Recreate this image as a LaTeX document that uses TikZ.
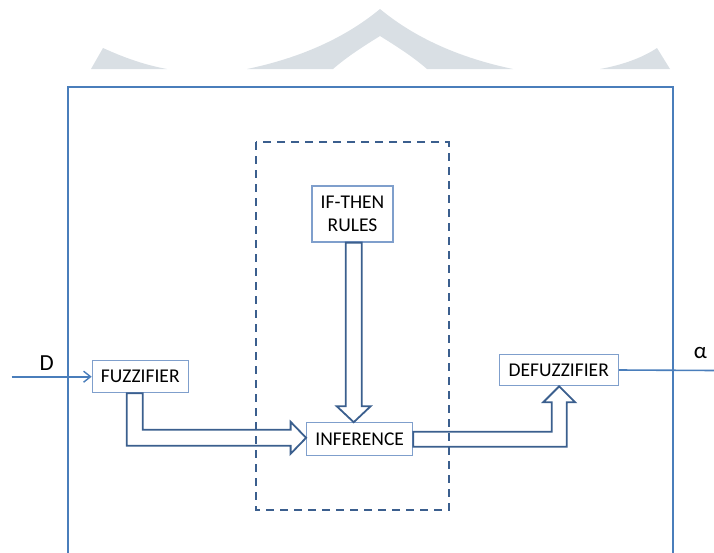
\documentclass[tikz,border=0pt]{standalone}
\usepackage{fontspec}
\setmainfont{Carlito}
\usetikzlibrary{calc,arrows.meta}
\definecolor{lineblue}{HTML}{4A7EBB}
\definecolor{boxblue}{HTML}{7F9FCC}
\definecolor{darkblue}{HTML}{3B5F8E}
\definecolor{wmgrey}{HTML}{D9DFE4}
\tikzset{
  blockbox/.style={draw=boxblue,line width=1.2pt,fill=white,inner sep=0pt,
    font=\fontsize{19.5}{23.5}\selectfont,align=center},
  hollow/.style={draw=darkblue,line width=1.8pt,line join=miter},
  biglabel/.style={font=\fontsize{23}{26}\selectfont,anchor=base,inner sep=0pt},
  thinline/.style={draw=lineblue,line width=1.6pt}
}
\begin{document}
\begin{tikzpicture}[x=1pt,y=-1pt]
\useasboundingbox (0,0) rectangle (714,552);
\clip (0,0) rectangle (714,552);
% watermark
\fill[wmgrey] (91,69) -- (103,48) .. controls (125,58) and (145,65) .. (167,69) -- cycle;
\fill[wmgrey] (247,69) .. controls (300,58) and (345,38) .. (380,9)
  .. controls (415,38) and (460,58) .. (513,69) -- (427,69)
  .. controls (412,56) and (396,46) .. (380,36)
  .. controls (364,46) and (348,56) .. (333,69) -- cycle;
\fill[wmgrey] (600,69) .. controls (622,65) and (642,58) .. (657,48) -- (670,69) -- cycle;
% outer frame
\draw[thinline,line width=1.8pt] (68,570) -- (68,87) -- (673,87) -- (673,570);
% blocks
\node[blockbox,minimum width=81pt,minimum height=56pt] (ifthen) at (352.5,214) {IF-THEN\\RULES};
\node[blockbox,minimum width=96pt,minimum height=32pt] (fuzz) at (140.3,376.7) {FUZZIFIER};
\node[blockbox,minimum width=106pt,minimum height=33pt] (inf) at (359.7,439.3) {INFERENCE};
\node[blockbox,minimum width=119pt,minimum height=31.4pt] (defuzz) at (558.8,370) {DEFUZZIFIER};
% labels
\node[biglabel] (dlab) at (46.7,370) {D};
\node[biglabel] (alab) at (700.5,358.5) {α};
% input / output
\coordinate (din) at (11.7,376.7);
\coordinate (aout) at (716,370.5);
\draw[thinline,-{Straight Barb[length=7pt,width=11pt,line width=1.4pt]}] (din) -- (fuzz.west);
\draw[thinline] (defuzz.east) -- (aout);
% hollow arrow fuzzifier -> inference
\coordinate (a1s) at ($(fuzz.south)+(-5.6,0)$);
\coordinate (a1t) at ($(inf.west)+(0,-1.5)$);
\draw[hollow] ($(a1s)+(-8,0)$) -- ($(a1s)+(8,0)$) -- ($(a1s |- a1t)+(8,-8)$)
  -- ($(a1t)+(-15.5,-8)$) -- ($(a1t)+(-15.5,-16)$) -- (a1t)
  -- ($(a1t)+(-15.5,16)$) -- ($(a1t)+(-15.5,8)$) -- ($(a1s |- a1t)+(-8,8)$) -- cycle;
% hollow arrow rules -> inference
\coordinate (a2s) at ($(ifthen.south)+(1.2,0)$);
\coordinate (a2t) at (a2s |- inf.north);
\draw[hollow] ($(a2s)+(-8,0)$) -- ($(a2s)+(8,0)$) -- ($(a2t)+(8,-16)$)
  -- ($(a2t)+(17,-16)$) -- (a2t) -- ($(a2t)+(-17,-16)$) -- ($(a2t)+(-8,-16)$) -- cycle;
% hollow arrow inference -> defuzzifier
\coordinate (a3s) at (inf.east);
\coordinate (a3t) at ($(defuzz.south)+(0.4,0)$);
\draw[hollow] ($(a3s)+(0,-7.5)$) -- ($(a3t |- a3s)+(-7.5,-7.5)$) -- ($(a3t)+(-7.5,16)$)
  -- ($(a3t)+(-16,16)$) -- (a3t) -- ($(a3t)+(16,16)$) -- ($(a3t)+(7.5,16)$)
  -- ($(a3t |- a3s)+(7.5,7.5)$) -- ($(a3s)+(0,7.5)$) -- cycle;
% dashed group
\draw[draw=darkblue,line width=2pt,dash pattern=on 8pt off 6pt] (256,142) rectangle (448.5,510);
\end{tikzpicture}
\end{document}
